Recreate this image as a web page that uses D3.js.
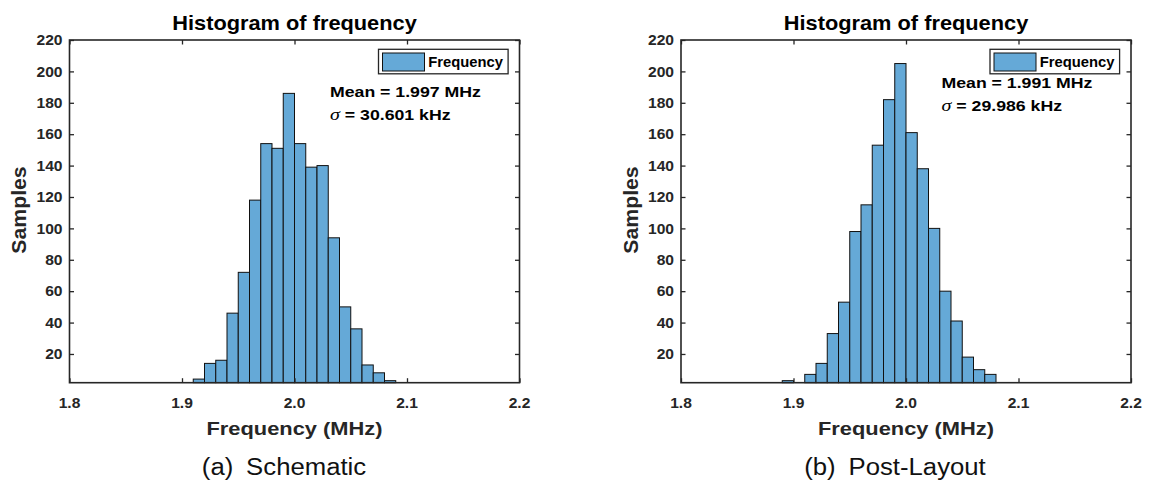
<!DOCTYPE html>
<html>
<head>
<meta charset="utf-8">
<script src="https://cdn.jsdelivr.net/npm/d3@7"></script>
<style>
  body { margin: 0; background: #fff; }
  svg { display: block; font-family: "Liberation Sans", Arial, Helvetica, sans-serif; }
</style>
</head>
<body>
<script>
// histogram bins (left edge, MHz) and counts
var binsA   = [1.91, 1.92, 1.93, 1.94, 1.95, 1.96, 1.97, 1.98, 1.99, 2.00, 2.01, 2.02, 2.03, 2.04, 2.05, 2.06, 2.07, 2.08];
var countsA = [4, 14, 16, 46, 72, 118, 154, 151, 186, 154, 139, 140, 94, 50, 36, 13, 8, 3];

var binsB   = [1.89, 1.91, 1.92, 1.93, 1.94, 1.95, 1.96, 1.97, 1.98, 1.99, 2.00, 2.01, 2.02, 2.03, 2.04, 2.05, 2.06, 2.07];
var countsB = [3, 7, 14, 33, 53, 98, 115, 153, 182, 205, 161, 138, 100, 60, 41, 18, 10, 7];

var BIN_WIDTH = 0.01;
var xTicks = [1.8, 1.9, 2.0, 2.1, 2.2];
var yTicks = [20, 40, 60, 80, 100, 120, 140, 160, 180, 200, 220];

var titleText = "Histogram of frequency";
var xLabel = "Frequency (MHz)";
var yLabel = "Samples";
var legendText = "Frequency";
var meanA = "Mean = 1.997 MHz", sigmaA = " = 30.601 kHz", captionA = "(a)\u2002Schematic";
var meanB = "Mean = 1.991 MHz", sigmaB = " = 29.986 kHz", captionB = "(b)\u2002Post-Layout";

const W = 1149, H = 484;
const AXIS_COLOR = "#262626";
const BAR_FILL = "#65a9d7";
const TICK_LEN = 4.5;

var svg = d3.select("body").append("svg")
    .attr("width", W)
    .attr("height", H);

// place a text with a small horizontal stretch (the original figure is a bit wide)
function label(g, x, y, s, size, sx, anchor, weight) {
    return g.append("text")
        .attr("transform", "translate(" + x + "," + y + ") scale(" + sx + ",1)")
        .attr("text-anchor", anchor || "start")
        .attr("font-size", size)
        .attr("font-weight", weight || "bold")
        .attr("fill", AXIS_COLOR)
        .text(s);
}

function drawPanel(p) {
    var x = d3.scaleLinear().domain([1.8, 2.2]).range([p.left, p.left + 450]);
    var y = d3.scaleLinear().domain([1.7, 220]).range([382.7, 40]);
    var top = y(220), bottom = y(1.7), left = x(1.8), right = x(2.2);
    var cx = (left + right) / 2;

    var g = svg.append("g");

    // bars
    g.append("g")
        .selectAll("rect")
        .data(p.bins.map(function(b, i) { return {x0: b, n: p.counts[i]}; }))
        .enter()
        .append("rect")
        .attr("x", function(d) { return x(d.x0); })
        .attr("width", function(d) { return x(d.x0 + BIN_WIDTH) - x(d.x0); })
        .attr("y", function(d) { return y(d.n); })
        .attr("height", function(d) { return bottom - y(d.n); })
        .attr("fill", BAR_FILL)
        .attr("stroke", "#111")
        .attr("stroke-width", 1);

    // axes: inward ticks on all four sides
    var axB = d3.axisBottom(x).tickValues(xTicks).tickSize(-TICK_LEN).tickFormat("");
    var axT = d3.axisTop(x).tickValues(xTicks).tickSize(-TICK_LEN).tickFormat("");
    var axL = d3.axisLeft(y).tickValues(yTicks).tickSize(-TICK_LEN).tickFormat("");
    var axR = d3.axisRight(y).tickValues(yTicks).tickSize(-TICK_LEN).tickFormat("");

    [[axB, "translate(0," + bottom + ")"], [axT, "translate(0," + top + ")"],
     [axL, "translate(" + left + ",0)"], [axR, "translate(" + right + ",0)"]].forEach(function(a) {
        var ag = g.append("g").attr("transform", a[1]).call(a[0].tickSizeOuter(0));
        ag.select(".domain").remove();
        ag.selectAll("line").attr("stroke", AXIS_COLOR).attr("stroke-width", 1.3);
    });

    g.append("rect")
        .attr("x", left).attr("y", top)
        .attr("width", right - left).attr("height", bottom - top)
        .attr("fill", "none")
        .attr("stroke", AXIS_COLOR)
        .attr("stroke-width", 1.6);

    // tick labels
    xTicks.forEach(function(t) {
        label(g, x(t), 407.5, d3.format(".1f")(t), 15, 1.04, "middle");
    });
    yTicks.forEach(function(t) {
        label(g, left - 7, y(t) + 5.3, t, 15, 1.04, "end");
    });

    // title and axis labels
    label(g, cx, 29.5, titleText, 20, 1.09, "middle").attr("fill", "#000");
    label(g, cx, 435, xLabel, 19, 1.15, "middle");
    g.append("text")
        .attr("transform", "translate(" + (left - 43.5) + ",210) rotate(-90) scale(1.09,1)")
        .attr("text-anchor", "middle")
        .attr("font-size", 19.5)
        .attr("font-weight", "bold")
        .attr("fill", AXIS_COLOR)
        .text(yLabel);

    // legend
    var lg = g.append("g");
    lg.append("rect")
        .attr("x", right - 141).attr("y", top + 9.3)
        .attr("width", 129.6).attr("height", 24.5)
        .attr("fill", "#fff")
        .attr("stroke", AXIS_COLOR)
        .attr("stroke-width", 1.3);
    lg.append("rect")
        .attr("x", right - 137).attr("y", top + 13)
        .attr("width", 42).attr("height", 18)
        .attr("fill", BAR_FILL)
        .attr("stroke", "#111")
        .attr("stroke-width", 1);
    label(lg, right - 91.2, top + 26.7, legendText, 14.5, 1.02, "start").attr("fill", "#000");

    // stats annotation
    label(g, left + 260.5, p.annoY, p.mean, 15, 1.18, "start").attr("fill", "#000");
    var s = label(g, left + 260.5, p.annoY + 22.7, "", 15, 1.18, "start").attr("fill", "#000");
    s.append("tspan")
        .attr("font-family", "'Liberation Serif', 'Times New Roman', serif")
        .attr("font-style", "italic")
        .attr("font-weight", "normal")
        .attr("font-size", 17)
        .text("\u03c3");
    s.append("tspan").text(p.sigma);

    // sub-figure caption
    label(g, p.capX, 475, p.caption, 24.5, 1.05, "middle", "normal").attr("fill", "#111");
}

drawPanel({left: 69.5, bins: binsA, counts: countsA, mean: meanA, sigma: sigmaA, caption: captionA, capX: 284, annoY: 97.3});
drawPanel({left: 681, bins: binsB, counts: countsB, mean: meanB, sigma: sigmaB, caption: captionB, capX: 895, annoY: 88.3});
</script>
</body>
</html>
